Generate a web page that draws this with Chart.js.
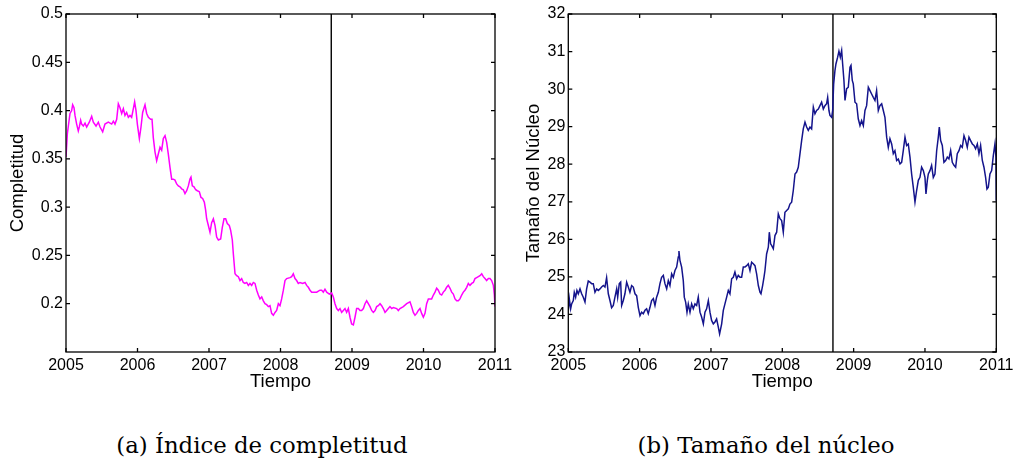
<!DOCTYPE html>
<html lang="es">
<head>
    <meta charset="UTF-8">
    <title>Completitud y tamaño del núcleo</title>
    <script src="https://cdn.jsdelivr.net/npm/chart.js"></script>
    <style>
        html, body { margin: 0; padding: 0; background: #fff; overflow: hidden; }
        body { width: 1014px; height: 462px; position: relative; }
        canvas { position: absolute; top: 0; }
        #panelA { left: 0; }
        #panelB { left: 516px; }
        .caption {
            position: absolute;
            top: 434px;
            width: 400px;
            text-align: center;
            font-family: "DejaVu Serif", serif;
            font-size: 22.8px;
            line-height: 22px;
            color: #000;
            white-space: nowrap;
        }
    </style>
</head>
<body>
    <canvas id="panelA" width="520" height="400"></canvas>
    <canvas id="panelB" width="510" height="400"></canvas>
    <div class="caption" style="left: 62px;">(a) Índice de completitud</div>
    <div class="caption" style="left: 566px;">(b) Tamaño del núcleo</div>

    <script>
        // fecha de la línea vertical (quiebra de Lehman, sep. 2008)
        var fechaCorte = 2008.71;

        var yearTicks = [2005, 2006, 2007, 2008, 2009, 2010, 2011];
        var completitudTicks = [0.2, 0.25, 0.3, 0.35, 0.4, 0.45, 0.5];
        var nucleoTicks = [23, 24, 25, 26, 27, 28, 29, 30, 31, 32];

        // índice de completitud
        var completitudYears = [
            2005.000, 2005.019, 2005.033, 2005.056, 2005.079, 2005.093, 2005.112, 2005.126, 2005.149, 2005.172,
            2005.186, 2005.205, 2005.219, 2005.242, 2005.266, 2005.289, 2005.326, 2005.359, 2005.382, 2005.420,
            2005.452, 2005.476, 2005.513, 2005.545, 2005.592, 2005.639, 2005.662, 2005.685, 2005.709, 2005.732,
            2005.755, 2005.779, 2005.802, 2005.825, 2005.848, 2005.872, 2005.895, 2005.918, 2005.942, 2005.960,
            2005.979, 2005.998, 2006.026, 2006.049, 2006.072, 2006.105, 2006.128, 2006.152, 2006.184, 2006.203,
            2006.221, 2006.245, 2006.268, 2006.291, 2006.315, 2006.338, 2006.361, 2006.385, 2006.408, 2006.431,
            2006.455, 2006.478, 2006.501, 2006.524, 2006.548, 2006.571, 2006.594, 2006.618, 2006.641, 2006.664,
            2006.688, 2006.711, 2006.734, 2006.748, 2006.767, 2006.790, 2006.814, 2006.837, 2006.865, 2006.888,
            2006.911, 2006.935, 2006.953, 2006.967, 2006.991, 2007.014, 2007.037, 2007.061, 2007.084, 2007.107,
            2007.131, 2007.163, 2007.186, 2007.210, 2007.233, 2007.256, 2007.284, 2007.303, 2007.326, 2007.340,
            2007.364, 2007.387, 2007.410, 2007.434, 2007.457, 2007.480, 2007.503, 2007.527, 2007.550, 2007.573,
            2007.597, 2007.620, 2007.643, 2007.667, 2007.690, 2007.713, 2007.737, 2007.760, 2007.783, 2007.807,
            2007.830, 2007.853, 2007.876, 2007.900, 2007.923, 2007.946, 2007.970, 2007.993, 2008.016, 2008.040,
            2008.063, 2008.086, 2008.133, 2008.156, 2008.179, 2008.203, 2008.226, 2008.249, 2008.273, 2008.310,
            2008.343, 2008.366, 2008.389, 2008.413, 2008.436, 2008.459, 2008.506, 2008.552, 2008.576, 2008.599,
            2008.622, 2008.646, 2008.683, 2008.716, 2008.739, 2008.762, 2008.786, 2008.809, 2008.832, 2008.855,
            2008.879, 2008.902, 2008.925, 2008.949, 2008.972, 2008.995, 2009.019, 2009.042, 2009.065, 2009.089,
            2009.112, 2009.135, 2009.159, 2009.182, 2009.205, 2009.228, 2009.252, 2009.275, 2009.298, 2009.322,
            2009.345, 2009.368, 2009.392, 2009.415, 2009.438, 2009.462, 2009.485, 2009.508, 2009.531, 2009.555,
            2009.578, 2009.625, 2009.648, 2009.671, 2009.718, 2009.765, 2009.811, 2009.834, 2009.858, 2009.881,
            2009.904, 2009.928, 2009.951, 2009.974, 2009.998, 2010.021, 2010.044, 2010.068, 2010.091, 2010.114,
            2010.138, 2010.161, 2010.184, 2010.207, 2010.231, 2010.254, 2010.277, 2010.301, 2010.324, 2010.347,
            2010.371, 2010.394, 2010.417, 2010.441, 2010.464, 2010.487, 2010.510, 2010.534, 2010.557, 2010.580,
            2010.604, 2010.627, 2010.650, 2010.674, 2010.697, 2010.720, 2010.744, 2010.767, 2010.790, 2010.814,
            2010.837, 2010.860, 2010.883, 2010.907, 2010.930, 2010.953, 2010.977, 2010.991, 2011.000
        ];
        var completitudValues = [
            0.352, 0.376, 0.384, 0.397, 0.400, 0.406, 0.403, 0.395, 0.386, 0.379,
            0.383, 0.390, 0.386, 0.384, 0.387, 0.383, 0.388, 0.394, 0.388, 0.384,
            0.388, 0.383, 0.378, 0.386, 0.388, 0.386, 0.389, 0.386, 0.391, 0.407,
            0.403, 0.397, 0.402, 0.395, 0.398, 0.393, 0.395, 0.393, 0.402, 0.409,
            0.400, 0.386, 0.371, 0.383, 0.398, 0.406, 0.397, 0.393, 0.391, 0.391,
            0.372, 0.357, 0.348, 0.355, 0.362, 0.359, 0.371, 0.374, 0.367, 0.355,
            0.341, 0.329, 0.329, 0.328, 0.324, 0.322, 0.321, 0.319, 0.318, 0.314,
            0.317, 0.322, 0.329, 0.331, 0.322, 0.321, 0.318, 0.317, 0.316, 0.310,
            0.309, 0.305, 0.297, 0.288, 0.281, 0.274, 0.284, 0.288, 0.281, 0.269,
            0.266, 0.267, 0.279, 0.288, 0.288, 0.283, 0.281, 0.276, 0.266, 0.252,
            0.231, 0.229, 0.228, 0.224, 0.226, 0.222, 0.221, 0.222, 0.219, 0.221,
            0.219, 0.222, 0.221, 0.214, 0.209, 0.205, 0.207, 0.203, 0.200, 0.199,
            0.197, 0.198, 0.190, 0.188, 0.191, 0.193, 0.200, 0.198, 0.205, 0.214,
            0.224, 0.226, 0.227, 0.228, 0.231, 0.226, 0.224, 0.221, 0.222, 0.221,
            0.222, 0.219, 0.217, 0.214, 0.212, 0.212, 0.212, 0.214, 0.214, 0.212,
            0.215, 0.212, 0.210, 0.211, 0.207, 0.200, 0.195, 0.193, 0.195, 0.191,
            0.193, 0.195, 0.191, 0.195, 0.186, 0.179, 0.178, 0.186, 0.195, 0.195,
            0.193, 0.193, 0.195, 0.200, 0.203, 0.200, 0.197, 0.193, 0.191, 0.193,
            0.197, 0.198, 0.200, 0.198, 0.195, 0.191, 0.193, 0.195, 0.197, 0.195,
            0.196, 0.195, 0.193, 0.195, 0.197, 0.200, 0.202, 0.197, 0.191, 0.188,
            0.190, 0.193, 0.195, 0.190, 0.186, 0.190, 0.200, 0.205, 0.205, 0.205,
            0.209, 0.212, 0.216, 0.214, 0.210, 0.209, 0.212, 0.214, 0.217, 0.219,
            0.216, 0.212, 0.210, 0.205, 0.203, 0.203, 0.205, 0.209, 0.212, 0.214,
            0.217, 0.221, 0.219, 0.221, 0.222, 0.226, 0.227, 0.228, 0.229, 0.231,
            0.228, 0.226, 0.224, 0.226, 0.226, 0.224, 0.219, 0.209, 0.197
        ];

        // tamaño del núcleo
        var nucleoYears = [
            2005.000, 2005.014, 2005.033, 2005.047, 2005.070, 2005.084, 2005.103, 2005.121, 2005.140, 2005.164,
            2005.187, 2005.210, 2005.234, 2005.257, 2005.280, 2005.304, 2005.327, 2005.350, 2005.374, 2005.397,
            2005.421, 2005.444, 2005.467, 2005.491, 2005.514, 2005.537, 2005.561, 2005.584, 2005.607, 2005.631,
            2005.654, 2005.678, 2005.692, 2005.715, 2005.734, 2005.748, 2005.771, 2005.794, 2005.818, 2005.841,
            2005.864, 2005.888, 2005.911, 2005.935, 2005.958, 2005.981, 2006.005, 2006.028, 2006.051, 2006.075,
            2006.098, 2006.121, 2006.145, 2006.168, 2006.192, 2006.215, 2006.238, 2006.262, 2006.285, 2006.308,
            2006.332, 2006.355, 2006.379, 2006.402, 2006.425, 2006.449, 2006.472, 2006.495, 2006.519, 2006.542,
            2006.551, 2006.565, 2006.589, 2006.612, 2006.626, 2006.645, 2006.664, 2006.682, 2006.706, 2006.729,
            2006.752, 2006.776, 2006.799, 2006.822, 2006.846, 2006.869, 2006.893, 2006.916, 2006.939, 2006.963,
            2006.986, 2007.009, 2007.033, 2007.056, 2007.079, 2007.103, 2007.121, 2007.150, 2007.173, 2007.196,
            2007.220, 2007.243, 2007.266, 2007.290, 2007.313, 2007.336, 2007.360, 2007.383, 2007.407, 2007.430,
            2007.453, 2007.477, 2007.500, 2007.523, 2007.547, 2007.570, 2007.593, 2007.617, 2007.640, 2007.664,
            2007.687, 2007.701, 2007.724, 2007.743, 2007.757, 2007.780, 2007.804, 2007.818, 2007.836, 2007.850,
            2007.874, 2007.897, 2007.921, 2007.944, 2007.967, 2007.991, 2008.014, 2008.037, 2008.061, 2008.084,
            2008.107, 2008.131, 2008.154, 2008.178, 2008.201, 2008.224, 2008.248, 2008.271, 2008.294, 2008.318,
            2008.341, 2008.364, 2008.388, 2008.411, 2008.435, 2008.458, 2008.481, 2008.505, 2008.528, 2008.551,
            2008.575, 2008.598, 2008.621, 2008.636, 2008.654, 2008.668, 2008.692, 2008.706, 2008.720, 2008.738,
            2008.752, 2008.776, 2008.794, 2008.813, 2008.832, 2008.846, 2008.864, 2008.879, 2008.902, 2008.925,
            2008.949, 2008.963, 2008.981, 2008.995, 2009.019, 2009.042, 2009.065, 2009.089, 2009.112, 2009.136,
            2009.159, 2009.182, 2009.206, 2009.229, 2009.252, 2009.276, 2009.299, 2009.322, 2009.346, 2009.369,
            2009.393, 2009.416, 2009.439, 2009.463, 2009.486, 2009.509, 2009.533, 2009.556, 2009.579, 2009.603,
            2009.626, 2009.650, 2009.673, 2009.696, 2009.720, 2009.743, 2009.766, 2009.790, 2009.813, 2009.836,
            2009.860, 2009.883, 2009.907, 2009.930, 2009.953, 2009.977, 2010.000, 2010.014, 2010.033, 2010.047,
            2010.070, 2010.093, 2010.117, 2010.140, 2010.164, 2010.187, 2010.201, 2010.220, 2010.243, 2010.266,
            2010.290, 2010.313, 2010.336, 2010.360, 2010.383, 2010.407, 2010.430, 2010.453, 2010.477, 2010.500,
            2010.523, 2010.547, 2010.570, 2010.593, 2010.617, 2010.640, 2010.664, 2010.687, 2010.710, 2010.734,
            2010.757, 2010.780, 2010.804, 2010.827, 2010.850, 2010.869, 2010.888, 2010.911, 2010.935, 2010.958,
            2010.981, 2010.995, 2011.000
        ];
        var nucleoValues = [
            24.11, 24.42, 24.15, 24.28, 24.37, 24.59, 24.46, 24.64, 24.55, 24.68,
            24.55, 24.46, 24.33, 24.68, 24.89, 24.86, 24.82, 24.82, 24.59, 24.68,
            24.64, 24.68, 24.73, 24.77, 24.73, 24.98, 24.55, 24.37, 24.18, 24.24,
            24.46, 24.68, 24.46, 24.82, 24.86, 24.24, 24.37, 24.55, 24.86, 24.73,
            24.59, 24.77, 24.73, 24.55, 24.50, 24.19, 23.97, 24.06, 24.02, 24.11,
            24.15, 24.02, 24.19, 24.37, 24.42, 24.24, 24.46, 24.59, 24.82, 24.99,
            25.04, 24.82, 24.68, 24.90, 24.77, 25.08, 24.99, 25.17, 25.26, 25.53,
            25.69, 25.44, 25.26, 24.90, 24.46, 24.33, 24.06, 24.28, 24.06, 24.28,
            24.15, 24.28, 24.24, 24.46, 24.06, 23.93, 23.75, 24.06, 24.15, 24.37,
            24.06, 23.84, 23.75, 23.80, 23.88, 23.66, 23.48, 23.75, 24.11, 24.28,
            24.46, 24.64, 24.55, 24.95, 24.99, 25.13, 24.95, 25.04, 24.99, 24.99,
            25.26, 25.26, 25.30, 25.35, 25.17, 25.39, 25.35, 25.30, 25.08, 24.77,
            24.59, 24.55, 24.77, 24.99, 25.17, 25.61, 25.79, 26.19, 25.88, 25.84,
            25.75, 26.10, 26.19, 26.68, 26.55, 26.50, 26.19, 26.72, 26.77, 26.81,
            26.94, 26.99, 27.30, 27.74, 27.79, 27.92, 28.28, 28.63, 28.94, 29.12,
            28.99, 28.90, 28.99, 28.94, 29.52, 29.34, 29.43, 29.47, 29.56, 29.65,
            29.47, 29.56, 29.61, 29.78, 29.43, 29.30, 29.25, 29.43, 30.14, 30.49,
            30.67, 30.85, 31.01, 30.85, 31.03, 30.67, 30.23, 29.70, 30.01, 30.05,
            30.58, 30.63, 30.23, 30.14, 29.65, 29.61, 29.21, 29.03, 29.16, 29.03,
            29.43, 29.56, 30.05, 29.96, 29.87, 29.78, 29.70, 29.96, 29.43, 29.56,
            29.61, 29.43, 29.25, 28.72, 28.45, 28.68, 28.54, 28.28, 28.36, 28.10,
            28.14, 28.01, 28.05, 28.36, 28.72, 28.50, 28.54, 28.19, 27.74, 27.39,
            26.99, 27.30, 27.57, 27.65, 27.92, 27.83, 27.65, 27.21, 27.57, 27.74,
            27.83, 27.97, 27.65, 27.74, 28.36, 28.72, 28.99, 28.63, 28.50, 28.05,
            28.10, 28.19, 28.14, 28.36, 28.05, 27.97, 27.92, 28.28, 28.36, 28.50,
            28.45, 28.76, 28.63, 28.45, 28.72, 28.63, 28.54, 28.50, 28.41, 28.54,
            28.28, 28.50, 28.10, 27.92, 27.65, 27.34, 27.39, 27.74, 27.83, 28.23,
            28.54, 28.19, 27.03
        ];

        Chart.defaults.color = '#000';
        Chart.defaults.font.family = '"Liberation Sans", Arial, sans-serif';

        // marco cerrado con marcas de graduación hacia dentro, como en MATLAB
        var marcoEjes = {
            id: 'marcoEjes',
            afterDatasetsDraw: function (chart) {
                var ctx = chart.ctx, a = chart.chartArea;
                var x = chart.scales.x, y = chart.scales.y;
                var len = 4;
                ctx.save();
                ctx.strokeStyle = '#000';
                ctx.lineWidth = 1.3;
                ctx.strokeRect(a.left, a.top, a.right - a.left, a.bottom - a.top);
                ctx.beginPath();
                x.ticks.forEach(function (t) {
                    var px = x.getPixelForValue(t.value);
                    ctx.moveTo(px, a.bottom); ctx.lineTo(px, a.bottom - len);
                    ctx.moveTo(px, a.top); ctx.lineTo(px, a.top + len);
                });
                y.ticks.forEach(function (t) {
                    var py = y.getPixelForValue(t.value);
                    ctx.moveTo(a.left, py); ctx.lineTo(a.left + len, py);
                    ctx.moveTo(a.right, py); ctx.lineTo(a.right - len, py);
                });
                ctx.stroke();
                ctx.restore();
            }
        };

        function toPoints(xs, ys) {
            return xs.map(function (v, i) { return { x: v, y: ys[i] }; });
        }

        function makePanel(canvasId, opts) {
            var ctx = document.getElementById(canvasId).getContext('2d');
            return new Chart(ctx, {
                type: 'line',
                data: {
                    datasets: [{
                        data: toPoints(opts.years, opts.values),
                        borderColor: opts.color,
                        borderWidth: 1.5,
                        pointRadius: 0,
                        tension: 0
                    }, {
                        data: [{ x: fechaCorte, y: opts.min }, { x: fechaCorte, y: opts.max }],
                        borderColor: '#000',
                        borderWidth: 1.4,
                        pointRadius: 0
                    }]
                },
                options: {
                    responsive: false,
                    animation: false,
                    events: [],
                    layout: { padding: { left: 0, top: 14, right: opts.padRight, bottom: 0 } },
                    plugins: { legend: { display: false }, tooltip: { enabled: false } },
                    scales: {
                        x: {
                            type: 'linear',
                            min: 2005,
                            max: 2011,
                            grid: { display: false, drawTicks: false },
                            border: { display: false },
                            afterBuildTicks: function (scale) {
                                scale.ticks = yearTicks.map(function (v) { return { value: v }; });
                            },
                            afterFit: function (scale) { scale.height = 48; },
                            ticks: {
                                autoSkip: false,
                                maxRotation: 0,
                                padding: 4,
                                font: { size: 16 },
                                callback: function (v) { return String(v); }
                            },
                            title: {
                                display: true,
                                text: 'Tiempo',
                                font: { size: 18.5 },
                                padding: { top: 0, bottom: 7 }
                            }
                        },
                        y: {
                            type: 'linear',
                            min: opts.min,
                            max: opts.max,
                            grid: { display: false, drawTicks: false },
                            border: { display: false },
                            afterBuildTicks: function (scale) {
                                scale.ticks = opts.ticks.map(function (v) { return { value: v }; });
                            },
                            afterFit: function (scale) { scale.width = opts.axisWidth; },
                            ticks: {
                                autoSkip: false,
                                padding: 3,
                                font: { size: 16 },
                                callback: function (v) { return String(v); }
                            },
                            title: {
                                display: true,
                                text: opts.yTitle,
                                font: { size: 18.5 },
                                padding: { top: 7, bottom: 0 }
                            }
                        }
                    }
                },
                plugins: [marcoEjes]
            });
        }

        makePanel('panelA', {
            years: completitudYears,
            values: completitudValues,
            color: '#ff00ff',
            min: 0.15,
            max: 0.5,
            ticks: completitudTicks,
            yTitle: 'Completitud',
            axisWidth: 66,
            padRight: 25
        });

        makePanel('panelB', {
            years: nucleoYears,
            values: nucleoValues,
            color: '#14148c',
            min: 23,
            max: 32,
            ticks: nucleoTicks,
            yTitle: 'Tamaño del Núcleo',
            axisWidth: 52.3,
            padRight: 29.7
        });
    </script>
</body>
</html>
